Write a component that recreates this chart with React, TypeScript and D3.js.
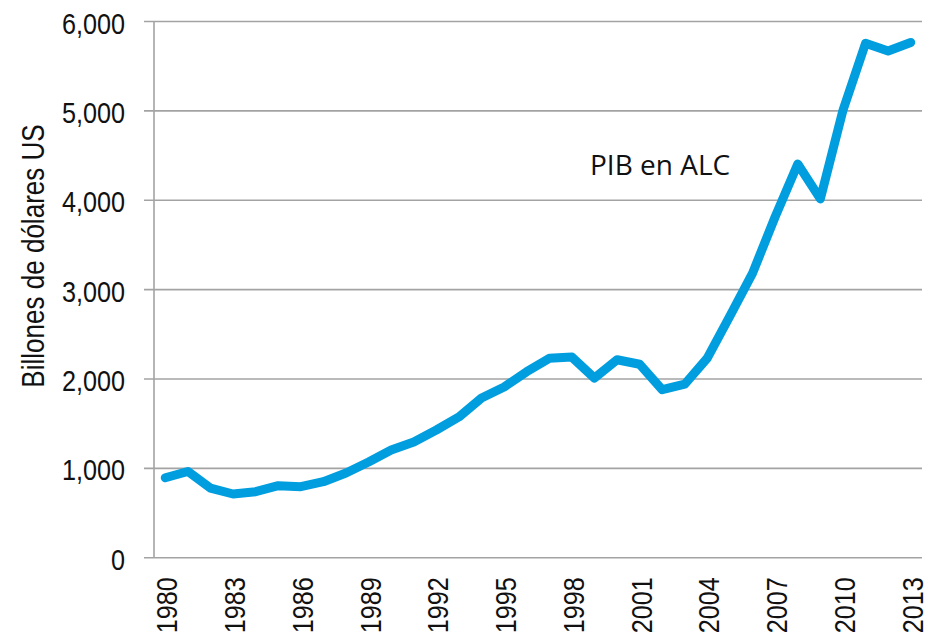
import React, { useRef, useEffect } from 'react';
import * as d3 from 'd3';

// PIB de América Latina y el Caribe, billones de dólares US
const years: number[] = [
  1980, 1981, 1982, 1983, 1984, 1985, 1986, 1987, 1988, 1989, 1990, 1991,
  1992, 1993, 1994, 1995, 1996, 1997, 1998, 1999, 2000, 2001, 2002, 2003,
  2004, 2005, 2006, 2007, 2008, 2009, 2010, 2011, 2012, 2013,
];
const gdp: number[] = [
  890, 960, 775, 708, 734, 801, 790, 846, 943, 1066, 1200, 1290,
  1424, 1570, 1782, 1905, 2076, 2226, 2240, 2005, 2210, 2160, 1875, 1938,
  2230, 2700, 3180, 3810, 4400, 4010, 5000, 5750, 5665, 5760,
];
const yTicks: number[] = [0, 1000, 2000, 3000, 4000, 5000, 6000];
const labelYears: number[] = years.filter((_, i) => i % 3 === 0);
const yTitle = 'Billones de dólares US';
const seriesLabel = 'PIB en ALC';

const W = 934;
const H = 634;
const AXIS_FONT = "'Liberation Sans Narrow', 'Arial Narrow', 'Liberation Sans', Arial, sans-serif";
const GRID = '#a3a3a3';
const NARROW = 0.84; // squeeze regular glyphs to look like Arial Narrow

// compress each text horizontally (along its own baseline)
function narrow(sel: d3.Selection<any, any, any, any>) {
  sel.each(function () {
    const el = this as SVGTextElement;
    const len = el.getComputedTextLength();
    if (len > 0) {
      el.setAttribute('textLength', String(len * NARROW));
      el.setAttribute('lengthAdjust', 'spacingAndGlyphs');
    }
  });
}

export default function App() {
  const svgRef = useRef<SVGSVGElement>(null);

  useEffect(() => {
    if (!svgRef.current) return;
    const svg = d3.select(svgRef.current);
    svg.selectAll('*').remove();

    const left = 154;
    const right = 922;
    const top = 21;
    const bottom = 557.3;

    const x = d3.scalePoint<number>().domain(years).range([left, right]).padding(0.5);
    const y = d3.scaleLinear().domain([0, 6000]).range([bottom, top]);

    // horizontal gridlines + y tick labels
    const yAxis = svg.append('g')
      .attr('transform', `translate(${left},0)`)
      .call(d3.axisLeft(y)
        .tickValues(yTicks)
        .tickSize(-(right - left))
        .tickSizeOuter(0)
        .tickPadding(29)
        .tickFormat(d3.format(',')));
    yAxis.select('.domain').remove();
    yAxis.selectAll('.tick line')
      .attr('stroke', GRID)
      .attr('stroke-width', 1.6)
      .attr('x1', -10);
    yAxis.selectAll('.tick text')
      .attr('font-family', AXIS_FONT)
      .attr('font-size', 30)
      .attr('fill', '#111')
      .attr('dy', '0.4em')
      .call(narrow);

    // vertical axis line
    svg.append('line')
      .attr('x1', left).attr('x2', left)
      .attr('y1', top).attr('y2', bottom)
      .attr('stroke', GRID)
      .attr('stroke-width', 1.6);

    // x labels
    const xAxis = svg.append('g')
      .attr('transform', `translate(0,${bottom})`)
      .call(d3.axisBottom(x).tickValues(labelYears).tickSize(0).tickFormat(d3.format('d')));
    xAxis.select('.domain').remove();
    xAxis.selectAll('.tick text')
      .attr('font-family', AXIS_FONT)
      .attr('font-size', 30)
      .attr('fill', '#111')
      .attr('text-anchor', 'end')
      .attr('transform', 'rotate(-90)')
      .attr('x', -20)
      .attr('y', 11.5)
      .attr('dy', 0)
      .call(narrow);

    // series line
    const line = d3.line<number>()
      .x((_, i) => x(years[i]) as number)
      .y(d => y(d));
    svg.append('path')
      .datum(gdp)
      .attr('d', line)
      .attr('fill', 'none')
      .attr('stroke', '#009edf')
      .attr('stroke-width', 9)
      .attr('stroke-linejoin', 'round')
      .attr('stroke-linecap', 'round');

    // series label
    svg.append('text')
      .attr('x', 590)
      .attr('y', 175)
      .attr('font-family', "'Open Sans', sans-serif")
      .attr('font-size', 28)
      .attr('fill', '#111')
      .text(seriesLabel);

    // y title
    svg.append('text')
      .attr('transform', `translate(44,${(125 + 387) / 2}) rotate(-90)`)
      .attr('text-anchor', 'middle')
      .attr('font-family', AXIS_FONT)
      .attr('font-size', 31)
      .attr('fill', '#111')
      .text(yTitle)
      .call(narrow);
  }, []);

  return (
    <svg
      ref={svgRef}
      width={W}
      height={H}
      style={{ position: 'absolute', left: 0, top: 0, background: '#fff', display: 'block' }}
    />
  );
}
